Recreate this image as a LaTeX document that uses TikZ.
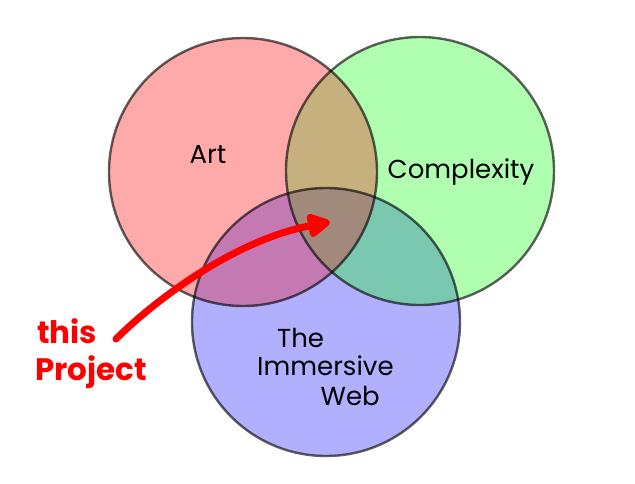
\documentclass[tikz,border=0pt]{standalone}
\usepackage{fontspec}
\setmainfont{Poppins}
\usetikzlibrary{arrows.meta}

\definecolor{artfill}{RGB}{255,170,170}
\definecolor{cpxfill}{RGB}{176,255,176}
\definecolor{webfill}{RGB}{176,176,255}
\definecolor{artcpx}{RGB}{198,176,125}
\definecolor{artweb}{RGB}{197,121,178}
\definecolor{cpxweb}{RGB}{122,200,176}
\definecolor{allthree}{RGB}{161,137,124}
\definecolor{marker}{RGB}{255,0,0}

\def\vennR{134}

\begin{document}
\begin{tikzpicture}[x=1pt,y=-1pt,
  rim/.style={draw=black,draw opacity=0.62,line width=2.4pt},
  setlabel/.style={font=\fontsize{26}{30}\selectfont,text=black,inner sep=0pt},
  scribble/.style={font=\fontsize{31}{34}\selectfont\bfseries,text=marker,inner sep=0pt},
  pointer/.style={draw=marker,line width=7pt,line cap=round,
    -{Triangle[length=26pt,width=26pt,round]}}]
\useasboundingbox (0,0) rectangle (635,483);

% circle centres
\coordinate (artc) at (243,172);
\coordinate (cpxc) at (420,171);
\coordinate (webc) at (326,322);

% single sets
\fill[artfill] (artc) circle[radius=\vennR];
\fill[cpxfill] (cpxc) circle[radius=\vennR];
\fill[webfill] (webc) circle[radius=\vennR];

% pairwise overlaps
\begin{scope}
  \clip (artc) circle[radius=\vennR];
  \fill[artcpx] (cpxc) circle[radius=\vennR];
  \fill[artweb] (webc) circle[radius=\vennR];
\end{scope}
\begin{scope}
  \clip (cpxc) circle[radius=\vennR];
  \fill[cpxweb] (webc) circle[radius=\vennR];
\end{scope}

% triple overlap
\begin{scope}
  \clip (artc) circle[radius=\vennR];
  \clip (cpxc) circle[radius=\vennR];
  \fill[allthree] (webc) circle[radius=\vennR];
\end{scope}

% outlines
\draw[rim] (artc) circle[radius=\vennR];
\draw[rim] (cpxc) circle[radius=\vennR];
\draw[rim] (webc) circle[radius=\vennR];

% set names
\node[setlabel,anchor=base] (art) at (208,163) {Art};
\node[setlabel,anchor=base] (cpx) at (461,178) {Complexity};
\node[setlabel,anchor=base west] (web1) at (277,347) {The};
\node[setlabel,anchor=base west] (web2) at (257,375) {Immersive};
\node[setlabel,anchor=base east] (web3) at (380,405) {Web};

% hand-written note and its arrow
\node[scribble,anchor=base west] (note1) at (37,343) {this};
\node[scribble,anchor=base west] (note2) at (35,380) {Project};
\coordinate (tail) at (116,339);
\coordinate (tip) at (330,222);
\draw[pointer] (tail) .. controls (155,300) and (235,240) .. (tip);
\end{tikzpicture}
\end{document}
